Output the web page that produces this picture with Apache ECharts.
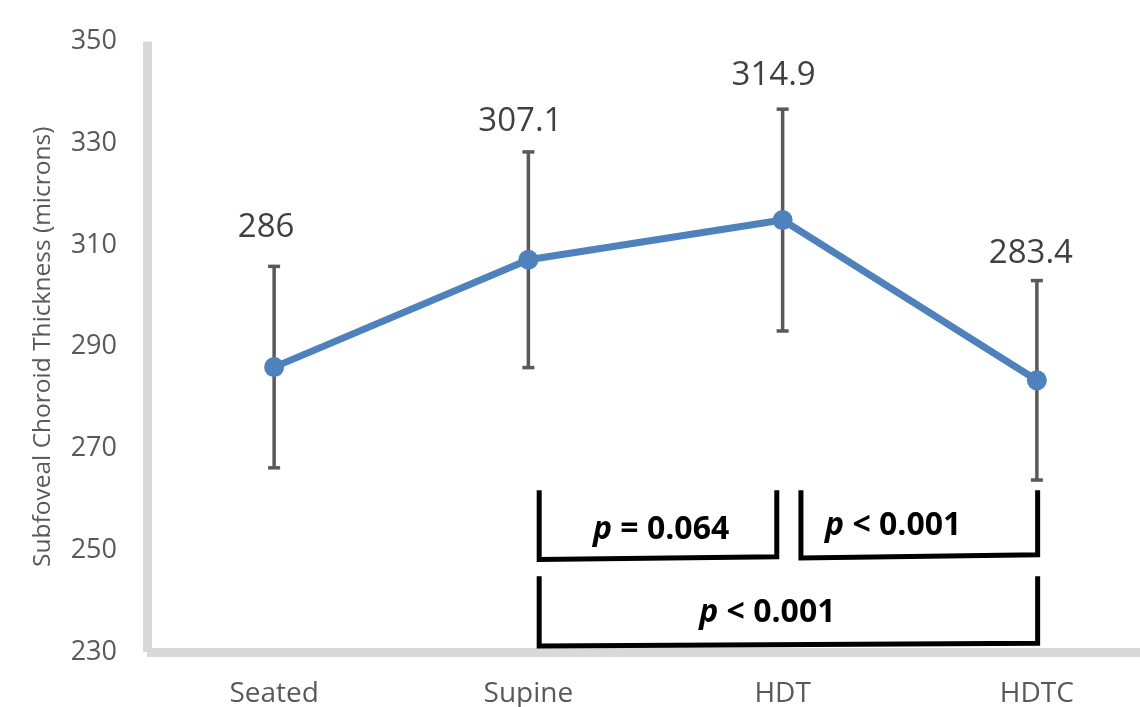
<!DOCTYPE html>
<html>
<head>
<meta charset="utf-8">
<script src="https://cdn.jsdelivr.net/npm/echarts@6/dist/echarts.min.js"></script>
<style>
  html, body { margin: 0; padding: 0; background: #ffffff; }
  #chart { width: 1140px; height: 707px; }
</style>
</head>
<body>
<div id="chart"></div>
<script>
// ---- Data ----
const categories = ['Seated', 'Supine', 'HDT', 'HDTC'];
const means = [286, 307.1, 314.9, 283.4];
const errors = [19.8, 21.2, 21.8, 19.6];
const valueLabels = ['286', '307.1', '314.9', '283.4'];
const yMin = 230, yMax = 350, yStep = 20;
const yAxisTitle = 'Subfoveal Choroid Thickness (microns)';

// Significance brackets (category-index units on x, axis values on y)
const bracketFrom = [1.0425, 2.072, 1.0425];
const bracketTo = [1.977, 3.003, 3.003];
const bracketTop = [261.8, 261.8, 244.9];
const bracketBottomFrom = [248.2, 248.5, 231.2];
const bracketBottomTo = [248.7, 249.1, 231.7];
const pRelations = ['= 0.064', '< 0.001', '< 0.001'];
const pLabelX = [1.522, 2.435, 1.94];
const pLabelY = [254.0, 254.8, 237.6];

// ---- Styling helpers ----
const FONT = '"Open Sans", "Liberation Sans", sans-serif';
const labelLift = [39, 30, 34, 27];
const labelShiftX = [-8, -8, -9, -6];

function xPix(api, x) {
  const i = Math.floor(x + 1e-9);
  const base = api.coord([i, yMin])[0];
  const band = api.size([1, 0])[0];
  return base + (x - i) * band;
}

const chart = echarts.init(document.getElementById('chart'), null, { renderer: 'canvas' });

const option = {
  backgroundColor: '#ffffff',
  animation: false,
  grid: { left: 147, width: 1017, top: 41.5, bottom: 55, containLabel: false, outerBoundsMode: 'none' },
  xAxis: {
    type: 'category',
    data: categories,
    boundaryGap: true,
    axisLine: { show: true, lineStyle: { color: '#d9d9d9', width: 9, cap: 'butt' } },
    axisTick: { show: false },
    axisLabel: { color: '#595959', fontSize: 28, fontFamily: FONT, margin: 28 },
    splitLine: { show: false }
  },
  yAxis: {
    type: 'value',
    min: yMin, max: yMax, interval: yStep,
    name: yAxisTitle,
    nameLocation: 'middle',
    nameRotate: 90,
    nameGap: 91,
    nameTextStyle: { color: '#595959', fontSize: 24.5, fontFamily: FONT },
    axisLine: { show: true, lineStyle: { color: '#d9d9d9', width: 9, cap: 'butt' } },
    axisTick: { show: false },
    axisLabel: { color: '#595959', fontSize: 27, fontFamily: FONT, margin: 30 },
    splitLine: { show: false }
  },
  series: [
    {
      type: 'custom',
      name: 'errors',
      z: 1,
      clip: false,
      data: categories.map((c, i) => [i, means[i] - errors[i], means[i] + errors[i]]),
      encode: { x: 0, y: [1, 2] },
      renderItem: function (params, api) {
        const i = params.dataIndex;
        const lo = api.coord([api.value(0), api.value(1)]);
        const hi = api.coord([api.value(0), api.value(2)]);
        const cap = 6;
        const st = { stroke: '#595959', lineWidth: 3.5 };
        return {
          type: 'group',
          children: [
            { type: 'line', shape: { x1: hi[0], y1: hi[1], x2: lo[0], y2: lo[1] }, style: st },
            { type: 'line', shape: { x1: hi[0] - cap, y1: hi[1], x2: hi[0] + cap, y2: hi[1] }, style: st },
            { type: 'line', shape: { x1: lo[0] - cap, y1: lo[1], x2: lo[0] + cap, y2: lo[1] }, style: st },
            {
              type: 'text',
              style: {
                text: valueLabels[i],
                x: hi[0] + labelShiftX[i],
                y: hi[1] - labelLift[i],
                align: 'center',
                verticalAlign: 'middle',
                fontSize: 33,
                fontFamily: FONT,
                fill: '#404040'
              }
            }
          ]
        };
      }
    },
    {
      type: 'line',
      name: 'mean',
      z: 3,
      data: means,
      symbol: 'circle',
      symbolSize: 20,
      lineStyle: { color: '#4f81bd', width: 7 },
      itemStyle: { color: '#4f81bd' }
    },
    {
      type: 'custom',
      name: 'brackets',
      z: 4,
      clip: false,
      data: pRelations.map((p, i) => [Math.floor(bracketFrom[i]), bracketTop[i]]),
      encode: { x: 0, y: 1 },
      renderItem: function (params, api) {
        const i = params.dataIndex;
        const x1 = xPix(api, bracketFrom[i]);
        const x2 = xPix(api, bracketTo[i]);
        const yT = api.coord([0, bracketTop[i]])[1];
        const yB1 = api.coord([0, bracketBottomFrom[i]])[1];
        const yB2 = api.coord([0, bracketBottomTo[i]])[1];
        const lx = xPix(api, pLabelX[i]);
        const ly = api.coord([0, pLabelY[i]])[1];
        return {
          type: 'group',
          children: [
            {
              type: 'polyline',
              shape: { points: [[x1, yT], [x1, yB1], [x2, yB2], [x2, yT]] },
              style: { stroke: '#000000', lineWidth: 5, fill: null, lineJoin: 'miter' }
            },
            {
              type: 'text',
              style: {
                text: '{i|p} {b|' + pRelations[i] + '}',
                x: lx,
                y: ly,
                align: 'center',
                verticalAlign: 'middle',
                fontSize: 32,
                fontFamily: FONT,
                fontWeight: 'bold',
                fill: '#000000',
                rich: {
                  i: { fontSize: 32, fontFamily: FONT, fontWeight: 'bold', fontStyle: 'italic', fill: '#000000' },
                  b: { fontSize: 32, fontFamily: FONT, fontWeight: 'bold', fill: '#000000' }
                }
              }
            }
          ]
        };
      }
    }
  ]
};

chart.setOption(option);
</script>
</body>
</html>
